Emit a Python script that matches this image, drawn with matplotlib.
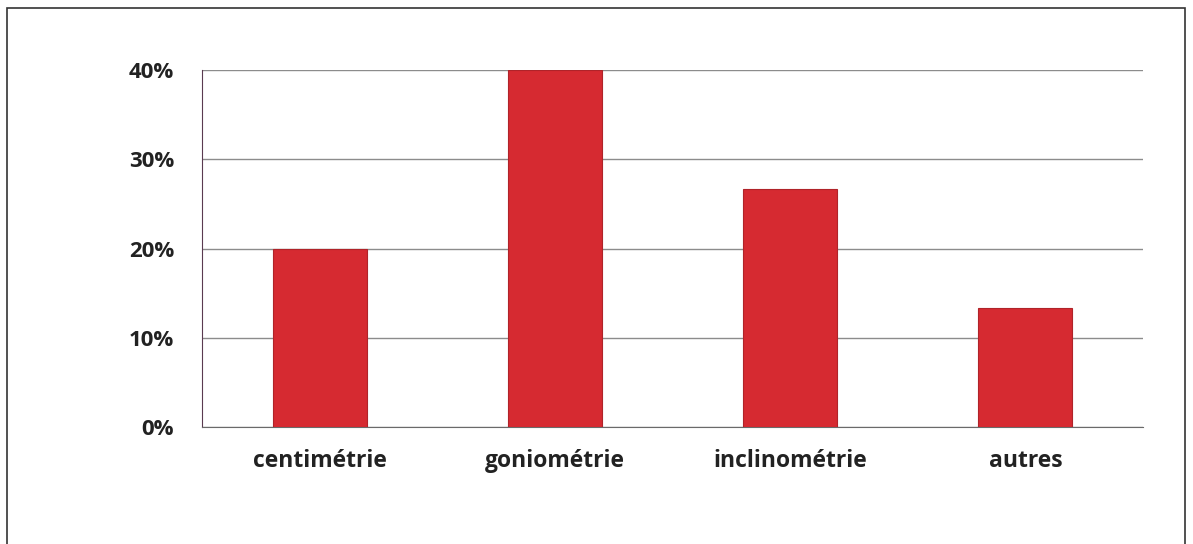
import matplotlib.pyplot as plt
from matplotlib.patches import Rectangle
from matplotlib.ticker import PercentFormatter

categories = ['centimétrie', 'goniométrie', 'inclinométrie', 'autres']
values = [20.0, 40.0, 26.7, 13.3]
yticks = [0, 10, 20, 30, 40]

plt.rcParams['font.family'] = ['Open Sans', 'DejaVu Sans']

fig = plt.figure(figsize=(11.93, 5.44), dpi=100)
ax = fig.add_axes([0.1693, 0.215, 0.7888, 0.656])

x = range(len(categories))
ax.bar(x, values, width=0.4, color='#d62a31', edgecolor='#b02329',
       linewidth=0.8, zorder=3)

ax.set_xlim(-0.5, len(categories) - 0.5)
ax.set_ylim(0, 40)
ax.set_yticks(yticks)
ax.yaxis.set_major_formatter(PercentFormatter(decimals=0))
ax.set_xticks(list(x))
ax.set_xticklabels(categories, fontsize=16.5, fontweight='bold', color='#222222')
for lbl in ax.get_yticklabels():
    lbl.set_fontsize(16)
    lbl.set_fontweight('bold')
    lbl.set_color('#222222')
ax.tick_params(axis='y', length=0, pad=20)
ax.tick_params(axis='x', length=0, pad=16)
ax.grid(axis='y', color='#8c8c8c', linewidth=1.0, zorder=0)

for side in ['top', 'right']:
    ax.spines[side].set_visible(False)
ax.spines['left'].set_color('#5a3a50')
ax.spines['bottom'].set_color('#6a6a6a')

# outer frame of the chart
fig.patches.append(Rectangle((0.006, -0.01), 0.987, 0.996, transform=fig.transFigure,
                             fill=False, edgecolor='#333333', linewidth=1.2))

fig.savefig('out.png', dpi=100)
